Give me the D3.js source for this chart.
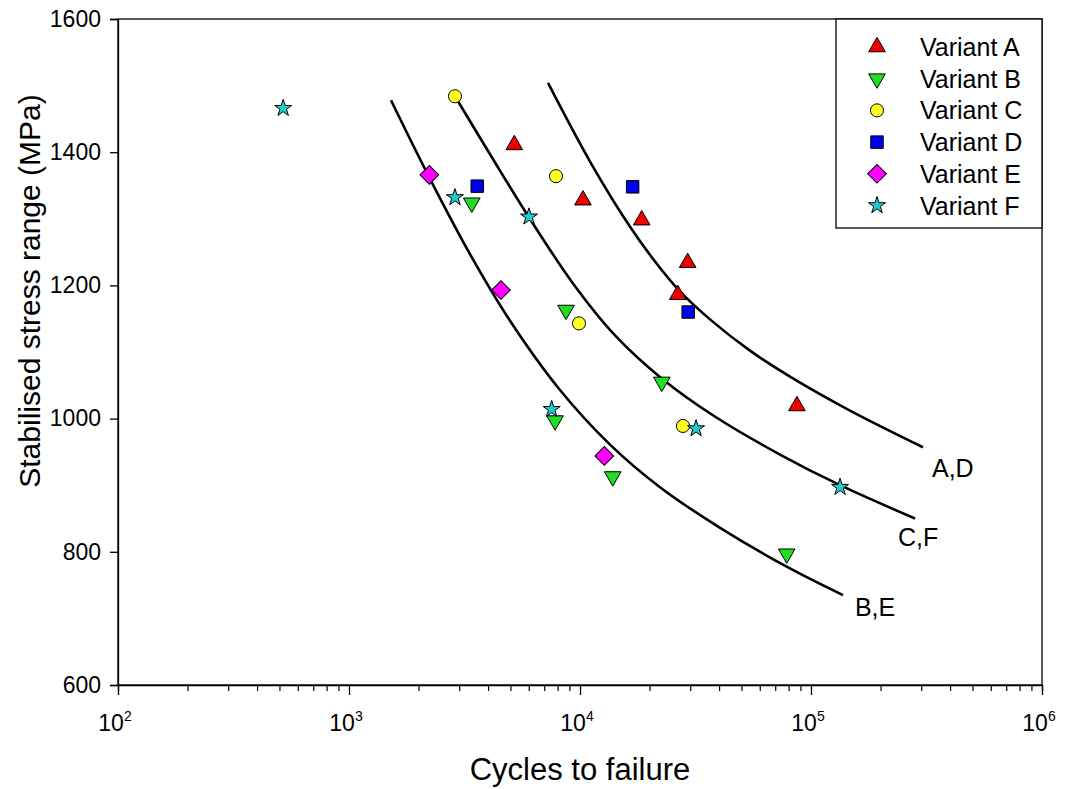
<!DOCTYPE html>
<html>
<head>
<meta charset="utf-8">
<script src="https://cdn.jsdelivr.net/npm/d3@7/dist/d3.min.js"></script>
<style>
  html, body { margin: 0; padding: 0; background: #fff; }
  svg { display: block; }
  text { font-family: "Liberation Sans", Arial, sans-serif; fill: #000; }
</style>
</head>
<body>
<svg id="chart" width="1067" height="789"></svg>
<script>
// ---- Data ----
const variantNames = ["Variant A", "Variant B", "Variant C", "Variant D", "Variant E", "Variant F"];

const aCycles = [5195, 10300, 18500, 29250, 26500, 86900];
const aStress = [1411, 1328, 1298, 1234, 1186, 1019];

const bCycles = [3400, 8700, 22600, 7800, 13860, 78500];
const bStress = [1324, 1163, 1055, 997, 913, 797];

const cCycles = [2875, 7870, 9900, 27900];
const cStress = [1484, 1364, 1143, 989];

const dCycles = [3590, 16900, 29400];
const dStress = [1349, 1348, 1160];

const eCycles = [2228, 4550, 12740];
const eStress = [1366, 1193, 944];

const fCycles = [519, 2875, 6015, 7540, 31800, 133600];
const fStress = [1466, 1332, 1303, 1014, 985, 897];

// Fitted curves
const curveLabels = ["A,D", "C,F", "B,E"];
const adCycles = [7270, 11050, 16470, 21120, 27100, 36540, 54440, 81120, 147500, 305300];
const adStress = [1504, 1386, 1288, 1236, 1191, 1149, 1102, 1063, 1012, 957];
const cfCycles = [2876, 4159, 6016, 9326, 14180, 22650, 38800, 73400, 133600, 282000];
const cfStress = [1484, 1392, 1302, 1203, 1125, 1060, 1002, 946, 900, 850];
const beCycles = [1520, 2242, 3340, 4977, 8192, 13490, 22200, 40400, 81100, 137500];
const beStress = [1478, 1360, 1247, 1147, 1043, 961, 897, 836, 775, 735];

const xDecades = [1e2, 1e3, 1e4, 1e5, 1e6];
const xExponents = ["2", "3", "4", "5", "6"];
const yTicks = [600, 800, 1000, 1200, 1400, 1600];

// ---- Layout ----
const svg = d3.select("#chart");
const L = 118, R = 1042, T = 19, B = 685;
const x = d3.scaleLog().domain([1e2, 1e6]).range([L, R]);
const y = d3.scaleLinear().domain([600, 1600]).range([B, T]);

// Curves
const curveSets = [
  {label: curveLabels[0], n: adCycles, s: adStress, dx: 9, dy: 30},
  {label: curveLabels[1], n: cfCycles, s: cfStress, dx: -17, dy: 27},
  {label: curveLabels[2], n: beCycles, s: beStress, dx: 12, dy: 21}
];
const line = d3.line().x(d => x(d[0])).y(d => y(d[1])).curve(d3.curveCatmullRom.alpha(0.5));
curveSets.forEach(c => {
  const pts = c.n.map((v, i) => [v, c.s[i]]);
  svg.append("path").attr("d", line(pts))
    .attr("fill", "none").attr("stroke", "#000").attr("stroke-width", 2.6);
  const last = pts[pts.length - 1];
  svg.append("text").attr("x", x(last[0]) + c.dx).attr("y", y(last[1]) + c.dy)
    .attr("font-size", 25).text(c.label);
});

// Frame
svg.append("rect").attr("x", L).attr("y", T).attr("width", R - L).attr("height", B - T)
  .attr("fill", "none").attr("stroke", "#000").attr("stroke-width", 1.3);

// Y axis
const yAxis = d3.axisLeft(y).tickValues(yTicks).tickSize(8).tickPadding(9).tickFormat(d3.format("d"));
const gy = svg.append("g").attr("transform", `translate(${L},0)`).call(yAxis);
gy.select(".domain").attr("stroke-width", 1.3);
gy.selectAll(".tick line").attr("stroke-width", 1.3);
gy.selectAll(".tick text").attr("font-size", 23).attr("font-family", "Liberation Sans, Arial, sans-serif");

// X axis with minor ticks
const minor = [];
for (let e = 2; e < 6; e++) for (let m = 2; m <= 9; m++) minor.push(m * Math.pow(10, e));
const gx = svg.append("g").attr("transform", `translate(0,${B})`);
gx.call(d3.axisBottom(x).tickValues(minor).tickSize(6).tickFormat(""));
gx.call(g => g.select(".domain").attr("stroke-width", 1.3));
const gxMajor = svg.append("g").attr("transform", `translate(0,${B})`)
  .call(d3.axisBottom(x).tickValues(xDecades).tickSize(10).tickFormat(""));
gxMajor.select(".domain").remove();
gx.selectAll(".tick line").attr("stroke-width", 1.2);
gxMajor.selectAll(".tick line").attr("stroke-width", 1.3);

const xl = svg.append("g");
xDecades.forEach((d, i) => {
  const t = xl.append("text").attr("x", x(d) - 3).attr("y", 731)
    .attr("text-anchor", "middle").attr("font-size", 23);
  t.append("tspan").text("10");
  t.append("tspan").attr("dy", -10).attr("font-size", 14).text(xExponents[i]);
});

// Axis titles
svg.append("text").attr("x", x(1e4)).attr("y", 780).attr("text-anchor", "middle")
  .attr("font-size", 31).text("Cycles to failure");
svg.append("text").attr("transform", "translate(40,291) rotate(-90)")
  .attr("text-anchor", "middle").attr("font-size", 30).text("Stabilised stress range (MPa)");

// Markers
const sym = {
  triUp: d3.symbol().type(d3.symbolTriangle).size(120),
  triDown: d3.symbol().type(d3.symbolTriangle).size(120),
  circle: d3.symbol().type(d3.symbolCircle).size(135),
  square: d3.symbol().type(d3.symbolSquare).size(155),
  diamond: d3.symbol().type(d3.symbolSquare).size(175),
  star: d3.symbol().type(d3.symbolStar).size(90)
};
const series = [
  {name: variantNames[0], n: aCycles, s: aStress, color: "#ee0000", shape: "triUp", rot: 0},
  {name: variantNames[1], n: bCycles, s: bStress, color: "#22dd22", shape: "triDown", rot: 180},
  {name: variantNames[2], n: cCycles, s: cStress, color: "#ffff22", shape: "circle", rot: 0},
  {name: variantNames[3], n: dCycles, s: dStress, color: "#0000ee", shape: "square", rot: 0},
  {name: variantNames[4], n: eCycles, s: eStress, color: "#ff00ff", shape: "diamond", rot: 45},
  {name: variantNames[5], n: fCycles, s: fStress, color: "#22cccc", shape: "star", rot: 0}
];
series.forEach(sr => {
  svg.append("g").selectAll("path").data(sr.n.map((v, i) => [v, sr.s[i]])).join("path")
    .attr("d", sym[sr.shape]())
    .attr("transform", d => `translate(${x(d[0])},${y(d[1])}) rotate(${sr.rot})`)
    .attr("fill", sr.color).attr("stroke", "#000").attr("stroke-width", 1);
});

// Legend
const lg = svg.append("g");
lg.append("rect").attr("x", 836).attr("y", T).attr("width", R - 836).attr("height", 209)
  .attr("fill", "#fff").attr("stroke", "#000").attr("stroke-width", 1.3);
series.forEach((sr, i) => {
  const cy = 47 + i * 31.7;
  lg.append("path").attr("d", sym[sr.shape]())
    .attr("transform", `translate(877,${cy}) rotate(${sr.rot})`)
    .attr("fill", sr.color).attr("stroke", "#000").attr("stroke-width", 1);
  lg.append("text").attr("x", 920).attr("y", cy + 9).attr("font-size", 25).text(sr.name);
});
</script>
</body>
</html>
